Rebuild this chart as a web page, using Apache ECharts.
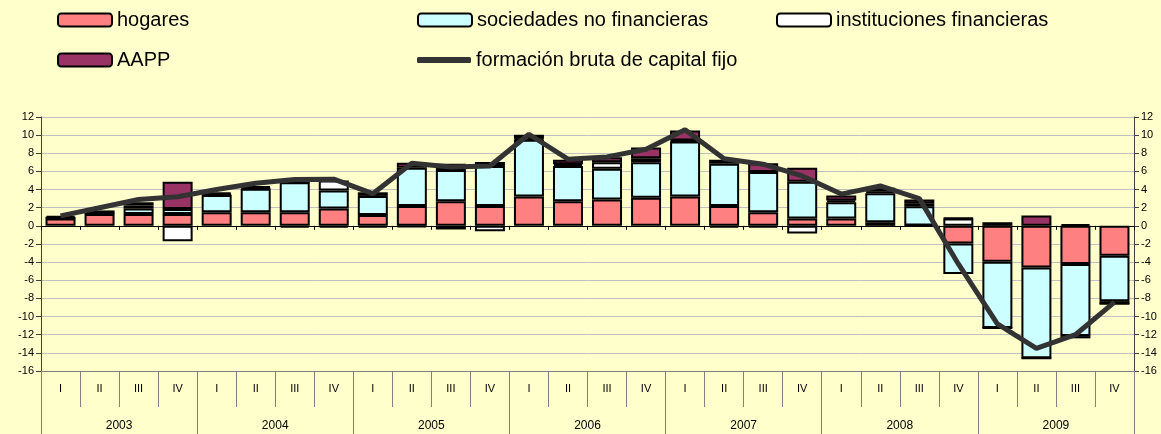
<!DOCTYPE html>
<html>
<head>
<meta charset="utf-8">
<script src="https://cdn.jsdelivr.net/npm/echarts@6/dist/echarts.min.js"></script>
<style>
  html, body { margin: 0; padding: 0; background: #FFFFCC; }
  #chart { width: 1161px; height: 434px; }
</style>
</head>
<body>
<div id="chart"></div>
<script>
  // trimestres y años
  var quarters = [];
  var years = ['2003', '2004', '2005', '2006', '2007', '2008', '2009'];
  for (var y = 0; y < years.length; y++) {
    quarters.push('I', 'II', 'III', 'IV');
  }

  // contribuciones por sector (puntos porcentuales)
  var hogares = [0.8, 1.3, 1.3, 1.3, 1.5, 1.5, 1.5, 1.9, 1.2, 2.2, 2.7, 2.2, 3.25, 2.7,
    2.9, 3.1, 3.25, 2.2, 1.5, 0.8, 0.8, 0.4, 0.05, -1.95, -3.95, -4.6, -4.2, -3.3];
  var sociedades = [0.1, 0.1, 0.6, 0.55, 1.9, 2.6, 3.3, 2.0, 2.1, 4.2, 3.45, 4.4, 6.25, 3.9,
    3.4, 3.9, 6.05, 4.65, 4.45, 4.05, 1.8, 3.2, 2.1, -3.35, -7.3, -10.0, -7.95, -5.0];
  var instituciones = [0, 0, 0.35, -1.7, 0.1, 0.1, -0.2, 1.1, -0.2, -0.15, -0.4, -0.6, 0.1, 0.2,
    0.7, 0.45, 0.1, -0.2, -0.2, -0.85, 0.2, 0.2, 0.3, 0.8, 0, 0, -0.25, -0.3];
  var aapp = [0.2, 0.3, 0.35, 3.0, 0.2, 0.15, 0.05, -0.2, 0.4, 0.55, 0.7, 0.45, 0.45, 0.5,
    0.55, 1.2, 1.1, 0.45, 0.95, 1.55, 0.55, 0.4, 0.45, 0.05, 0.4, 1.15, 0.2, 0];
  // formación bruta de capital fijo (tasa)
  var fbcf = [1.1, 2.0, 2.9, 3.2, 4.0, 4.7, 5.1, 5.15, 3.55, 6.9, 6.5, 6.6, 10.1, 7.35,
    7.6, 8.45, 10.6, 7.4, 6.8, 5.5, 3.5, 4.4, 3.0, -4.2, -10.8, -13.5, -12.0, -8.4];

  var names = ['hogares', 'sociedades no financieras', 'instituciones financieras', 'AAPP',
    'formación bruta de capital fijo'];
  var colors = ['#FF8080', '#CCFFFF', '#FFFFFF', '#993366', '#333333'];
  var font = 'Liberation Sans, Arial, sans-serif';

  function legendAt(name, left, top, extra) {
    var l = {
      data: [name],
      left: left,
      top: top,
      itemWidth: 54,
      itemHeight: 13,
      selectedMode: false,
      textStyle: { fontFamily: font, fontSize: 20, color: '#000' }
    };
    for (var k in extra) l[k] = extra[k];
    return l;
  }

  function barSeries(i, data) {
    return {
      name: names[i],
      type: 'bar',
      stack: 'total',
      barWidth: 30,
      data: data,
      itemStyle: { color: colors[i], borderColor: '#000', borderWidth: 2 }
    };
  }

  var myChart = echarts.init(document.getElementById('chart'));
  var option = {
    backgroundColor: '#FFFFCC',
    animation: false,
    legend: [
      legendAt(names[0], 52, 5),
      legendAt(names[1], 412, 5),
      legendAt(names[2], 771, 5),
      legendAt(names[3], 52, 45),
      legendAt({ name: names[4], icon: 'roundRect', itemStyle: { color: '#333333', borderWidth: 0 } },
        412, 45, { itemHeight: 6 })
    ],
    grid: { left: 41, right: 27, top: 117, bottom: 63 },
    xAxis: [
      {
        type: 'category',
        data: quarters,
        position: 'bottom',
        axisLine: { onZero: true, onZeroAxisIndex: 0, lineStyle: { color: '#000', width: 1 } },
        axisTick: { show: true, length: 4, interval: 0, lineStyle: { color: '#000' } },
        axisLabel: { show: false },
        splitLine: { show: false }
      },
      {
        type: 'category',
        data: quarters,
        position: 'bottom',
        axisLine: { onZero: false, lineStyle: { color: '#808080' } },
        axisTick: { show: true, length: 36, interval: 0, lineStyle: { color: '#808080' } },
        axisLabel: { interval: 0, margin: 12, fontFamily: font, fontSize: 11, color: '#000' },
        splitLine: { show: false }
      },
      {
        type: 'category',
        data: years,
        position: 'bottom',
        axisLine: { onZero: false, show: false },
        axisTick: { show: true, length: 64, interval: 0, lineStyle: { color: '#808080' } },
        axisLabel: { interval: 0, margin: 49, fontFamily: font, fontSize: 12, color: '#000' },
        splitLine: { show: false }
      }
    ],
    yAxis: [
      {
        type: 'value',
        position: 'left',
        min: -16,
        max: 12,
        interval: 2,
        axisLine: { show: true, lineStyle: { color: '#404040' } },
        axisTick: { show: true, length: 5, lineStyle: { color: '#404040' } },
        axisLabel: { margin: 7, fontFamily: font, fontSize: 11, color: '#000' },
        splitLine: { show: true, lineStyle: { color: '#C0C0C0', width: 1 } }
      },
      {
        type: 'value',
        position: 'right',
        min: -16,
        max: 12,
        interval: 2,
        axisLine: { show: true, lineStyle: { color: '#404040' } },
        axisTick: { show: true, length: 5, lineStyle: { color: '#404040' } },
        axisLabel: { margin: 7, fontFamily: font, fontSize: 11, color: '#000' },
        splitLine: { show: false }
      }
    ],
    series: [
      barSeries(0, hogares),
      barSeries(1, sociedades),
      barSeries(2, instituciones),
      barSeries(3, aapp),
      {
        name: names[4],
        type: 'line',
        data: fbcf,
        showSymbol: false,
        symbol: 'none',
        z: 5,
        lineStyle: { color: '#333333', width: 5 },
        itemStyle: { color: '#333333' }
      }
    ]
  };
  myChart.setOption(option);
</script>
</body>
</html>
